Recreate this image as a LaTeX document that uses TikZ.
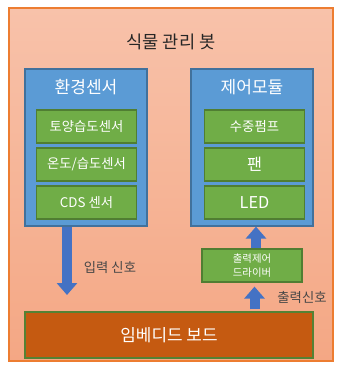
\documentclass[tikz,border=0pt]{standalone}
\usepackage{fontspec}
\setmainfont{Noto Sans CJK KR}
\usetikzlibrary{arrows.meta,positioning,calc}
\definecolor{OuterLine}{HTML}{ED7D31}
\definecolor{OuterTop}{HTML}{F8C2AA}
\definecolor{OuterBot}{HTML}{F4A784}
\definecolor{ModBlue}{HTML}{5B9BD5}
\definecolor{ModLine}{HTML}{41719C}
\definecolor{PartGreen}{HTML}{70AD47}
\definecolor{PartLine}{HTML}{507E32}
\definecolor{BoardFill}{HTML}{C55A11}
\definecolor{BoardLine}{HTML}{548235}
\definecolor{ArrowBlue}{HTML}{4472C4}
\definecolor{TextDark}{HTML}{262626}

\begin{document}
\begin{tikzpicture}[x=0.75pt,y=-0.75pt,
  every node/.style={align=center,inner sep=0pt},
  modbox/.style={draw=ModLine,fill=ModBlue,line width=0.9pt,minimum width=91.5pt,minimum height=117.75pt},
  partbox/.style={draw=PartLine,fill=PartGreen,line width=0.9pt,minimum width=75pt,minimum height=24.75pt,text=white,font=\fontsize{10}{11}\selectfont},
  modtitle/.style={text=white,font=\fontsize{12.8}{14}\selectfont},
  sigtext/.style={text=TextDark!85,font=\fontsize{10}{11}\selectfont},
  blockarrow/.style={ArrowBlue,line width=7.5pt,-{Triangle[width=15pt,length=9pt]}}]
\useasboundingbox (0,0) rectangle (338,365);
% frame
\node[draw=OuterLine,line width=1.1pt,top color=OuterTop,bottom color=OuterBot,minimum width=243pt,minimum height=264.75pt] (bot) at (171,184.5) {};
\node[text=TextDark,font=\fontsize{13.2}{15}\selectfont] (title) at (171,42) {식물 관리 봇};
% sensors
\node[modbox] (sens) at (86,147.5) {};
\node[modtitle] (senstitle) at (86,87) {환경센서};
\node[partbox] (soil) at (86.5,126.5) {토양습도센서};
\node[partbox] (temp) at (86.5,164.5) {온도/습도센서};
\node[partbox] (cds) at (86.5,202.5) {CDS 센서};
% control
\node[modbox] (ctrl) at (252,147.5) {};
\node[modtitle] (ctrltitle) at (252,87) {제어모듈};
\node[partbox] (pump) at (254.5,126.5) {수중펌프};
\node[partbox,font=\fontsize{12.2}{14}\selectfont] (fan) at (254.5,164.5) {팬};
\node[partbox,font=\fontsize{12.2}{14}\selectfont] (led) at (254.5,202.5) {LED};
% driver and board
\node[partbox,font=\fontsize{7.8}{10}\selectfont] (drv) at (252,265.5) {출력제어\\드라이버};
\node[draw=BoardLine,fill=BoardFill,line width=0.9pt,minimum width=216pt,minimum height=34.5pt,text=white,font=\fontsize{12.7}{14}\selectfont] (board) at (169,335) {임베디드 보드};
% signals
\coordinate (inend) at (67,295);
\draw[blockarrow] (sens.south -| inend) -- (inend);
\node[sigtext] (inlbl) at (110,268) {입력 신호};
\coordinate (drvx) at (256,0);
\draw[blockarrow] (drv.north -| drvx) -- (ctrl.south -| drvx);
\coordinate (outx) at (254.5,0);
\draw[blockarrow,shorten <=1.5pt,shorten >=3pt] (board.north -| outx) -- (drv.south -| outx);
\node[sigtext] (outlbl) at (302,297) {출력신호};
\end{tikzpicture}
\end{document}
